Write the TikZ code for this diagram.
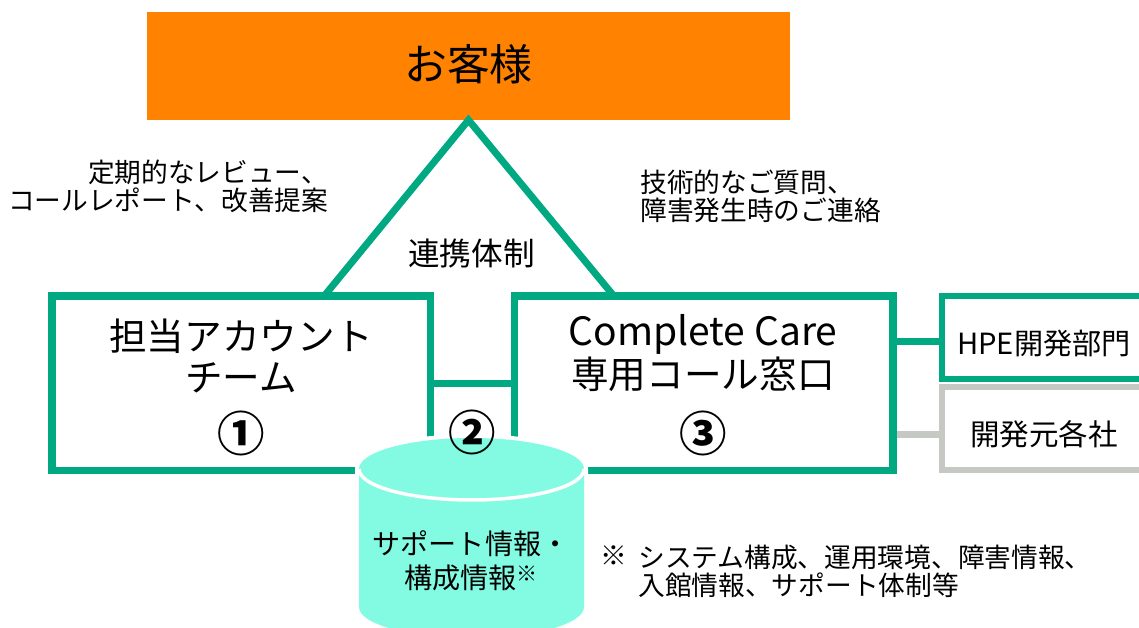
\documentclass[tikz,border=0pt]{standalone}
\usepackage{fontspec}
\setmainfont{Noto Sans CJK JP}
\definecolor{hpegreen}{HTML}{01A982}
\definecolor{hpegray}{HTML}{C6C9C3}
\definecolor{hpeorange}{HTML}{FF8300}
\definecolor{hpemint}{HTML}{82FBE2}
\tikzset{
	box/.style={draw=hpegreen, fill=white, line width=0.15cm, inner sep=0pt, outer sep=0pt},
	sidebox/.style={box, line width=0.12cm, minimum width=4.16cm, minimum height=1.66cm},
	link/.style={color=hpegreen, line width=0.14cm},
	cyl/.style={fill=hpemint, preaction={draw=white, line width=0.16cm}},
	txt/.style={inner sep=0pt, align=center, text=black},
	small/.style={txt, font=\fontsize{15.2}{15.9}\selectfont},
	mid/.style={txt, font=\fontsize{21.4}{23.4}\selectfont},
	num/.style={txt, font=\fontsize{27}{30}\selectfont\bfseries}
}
\begin{document}
\begin{tikzpicture}
	\useasboundingbox (0, 0) rectangle (22.78, 12.56);
	
	%%%%% top %%%%%
	\node[fill=hpeorange, inner sep=0pt, outer sep=0pt, minimum width=12.86cm, minimum height=2.16cm] (customer) at (9.37, 11.24) {};
	\node[txt, font=\fontsize{24.4}{28}\selectfont] (customertext) at (9.37, 11.28) {お客様};
	
	%%%%% boxes %%%%%
	\node[box, minimum width=7.57cm, minimum height=3.49cm] (account) at (4.82, 4.89) {};
	\node[box, minimum width=7.57cm, minimum height=3.49cm] (callcenter) at (14.07, 4.89) {};
	\node[sidebox, draw=hpegray] (vendor) at (20.92, 3.99) {};
	\node[sidebox] (hpe) at (20.92, 5.81) {};
	
	%%%%% connectors %%%%%
	\coordinate (legleft) at (6.5, 6.66);
	\coordinate (legright) at (12.26, 6.66);
	\coordinate (hpeport) at (18.84, 5.72);
	\coordinate (vendorport) at (18.84, 3.86);
	\draw[link] (legleft) -- (customer.south) -- (legright);
	\draw[link] (account.east) -- (callcenter.west);
	\draw[link] (callcenter.east |- hpeport) -- (hpeport);
	\draw[link, color=hpegray, shorten <=0.08cm] (callcenter.east |- vendorport) -- (vendorport);
	
	%%%%% cylinder %%%%%
	\path[cyl] (7.18, 3.18) arc (180:0:2.25 and 0.62) -- (11.68, 0.42) arc (360:180:2.25 and 0.62) -- cycle;
	\draw[color=white, line width=0.07cm] (7.18, 3.18) arc (180:360:2.25 and 0.62);
	
	%%%%% labels %%%%%
	\node[small, align=right, anchor=east] (review) at (6.57, 8.84) {定期的なレビュー、\\コールレポート、改善提案};
	\node[small, align=left, anchor=west] (inquiry) at (12.8, 8.64) {技術的なご質問、\\障害発生時のご連絡};
	\node[txt, font=\fontsize{18}{20}\selectfont] (system) at (9.43, 7.48) {連携体制};
	
	\node[mid] (accounttext) at (4.82, 5.44) {担当アカウント\\チーム};
	\node[mid] (calltext) at (14.06, 5.5) {{\fontsize{22.2}{23.4}\selectfont Complete Care}\\[1pt]専用コール窓口};
	\node[num] (one) at (4.82, 3.9) {①};
	\node[num] (two) at (9.44, 3.91) {②};
	\node[num] (three) at (14.06, 3.9) {③};
	
	\node[txt, font=\fontsize{16.6}{18}\selectfont] (hpetext) at (20.88, 5.68) {HPE開発部門};
	\node[txt, font=\fontsize{16.8}{18}\selectfont] (vendortext) at (20.88, 3.88) {開発元各社};
	
	\node[txt, font=\fontsize{16}{19.2}\selectfont] (cyltext) at (9.42, 1.35) {サポート情報・\\構成情報{\fontsize{12}{12}\selectfont\raisebox{0.3em}{※}}};
	\node[small, anchor=west] (mark) at (12, 1.44) {※};
	\node[small, align=left, anchor=west] (note) at (12.76, 1.14) {システム構成、運用環境、障害情報、\\入館情報、サポート体制等};
\end{tikzpicture}
\end{document}
